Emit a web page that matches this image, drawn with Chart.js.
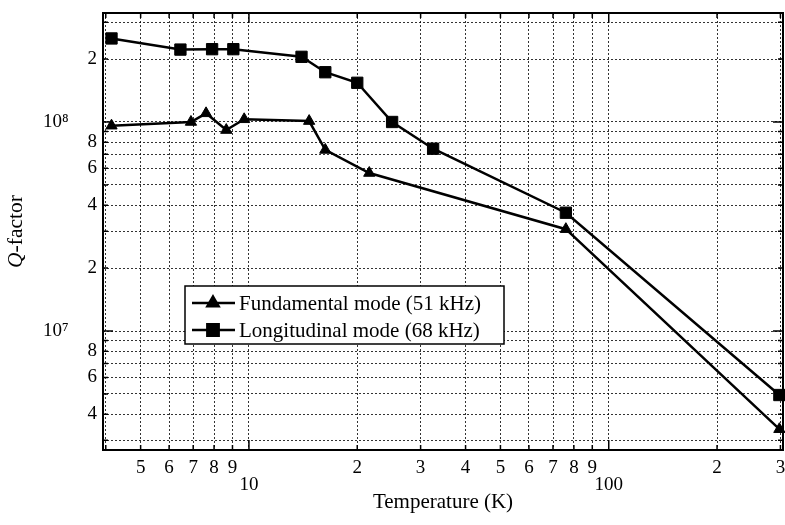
<!DOCTYPE html>
<html><head><meta charset="utf-8">
<script src="https://cdn.jsdelivr.net/npm/chart.js@4.4.1/dist/chart.umd.min.js"></script>
<style>html,body{margin:0;padding:0;background:#fff;}#wrap{width:785px;height:525px;position:relative;}</style>
</head><body><div id="wrap"><canvas id="c" width="785" height="525"></canvas></div>
<script>
// ---- data ----
const fundamentalT = [4.15, 6.9, 7.6, 8.65, 9.7, 14.7, 16.3, 21.6, 76, 298];
const fundamentalQ = [9.6e7, 1.0e8, 1.10e8, 9.15e7, 1.03e8, 1.01e8, 7.35e7, 5.7e7, 3.07e7, 3.39e6];
const longitudinalT = [4.15, 6.45, 7.9, 9.05, 14.0, 16.3, 20.0, 25.0, 32.5, 76, 298];
const longitudinalQ = [2.51e8, 2.22e8, 2.23e8, 2.23e8, 2.05e8, 1.73e8, 1.54e8, 1.0e8, 7.45e7, 3.68e7, 4.94e6];
const seriesNames = ['Fundamental mode (51 kHz)', 'Longitudinal mode (68 kHz)'];

const xGridValues = [4,5,6,7,8,9,10,20,30,40,50,60,70,80,90,100,200,300];
const xTickLabels = {5:'5',6:'6',7:'7',8:'8',9:'9',10:['','10'],20:'2',30:'3',40:'4',50:'5',60:'6',70:'7',80:'8',90:'9',100:['','100'],200:'2',300:'3'};
const xMajor = [10, 100];
const yGridValues = [3e6,4e6,5e6,6e6,7e6,8e6,9e6,1e7,2e7,3e7,4e7,5e7,6e7,7e7,8e7,9e7,1e8,2e8,3e8];
const yTickLabels = {4e6:'4',6e6:'6',8e6:'8',1e7:'10\u2077      ',2e7:'2',4e7:'4',6e7:'6',8e7:'8',1e8:'10\u2078      ',2e8:'2'};
const yMajor = [1e7, 1e8];

const FONT = 'Liberation Serif';

const boxPlugin = {
  id: 'boxPlugin',
  afterDatasetsDraw(chart) {
    const {ctx, chartArea: a, scales: {x, y}} = chart;
    ctx.save();
    ctx.strokeStyle = '#000';
    ctx.lineWidth = 1.5;
    ctx.beginPath();
    xGridValues.forEach(v => {
      const px = x.getPixelForValue(v);
      const len = xMajor.includes(v) ? 10 : 5;
      ctx.moveTo(px, a.bottom); ctx.lineTo(px, a.bottom - len);
      ctx.moveTo(px, a.top); ctx.lineTo(px, a.top + len);
    });
    yGridValues.forEach(v => {
      const py = y.getPixelForValue(v);
      const len = yMajor.includes(v) ? 10 : 5;
      ctx.moveTo(a.left, py); ctx.lineTo(a.left + len, py);
      ctx.moveTo(a.right, py); ctx.lineTo(a.right - len, py);
    });
    ctx.stroke();
    ctx.lineWidth = 2;
    ctx.strokeRect(a.left, a.top, a.right - a.left, a.bottom - a.top);
    ctx.restore();
  },
  afterDraw(chart) {
    const {ctx, chartArea: a} = chart;
    ctx.save();
    // y title with italic Q
    ctx.translate(16, (a.top + a.bottom) / 2);
    ctx.rotate(-Math.PI / 2);
    ctx.fillStyle = '#000';
    ctx.textBaseline = 'middle';
    const f1 = 'italic 21.5px "' + FONT + '"', f2 = '21.5px "' + FONT + '"';
    ctx.font = f1; const w1 = ctx.measureText('Q').width;
    ctx.font = f2; const w2 = ctx.measureText('-factor').width;
    let sx = -(w1 + w2) / 2;
    ctx.font = f1; ctx.textAlign = 'left'; ctx.fillText('Q', sx, 0);
    ctx.font = f2; ctx.fillText('-factor', sx + w1, 0);
    ctx.restore();

    // legend
    ctx.save();
    const lx = 185, ly = 286, lw = 319, lh = 58;
    ctx.fillStyle = '#fff';
    ctx.fillRect(lx, ly, lw, lh);
    ctx.strokeStyle = '#000'; ctx.lineWidth = 1.5;
    ctx.strokeRect(lx, ly, lw, lh);
    chart.data.datasets.forEach((ds, i) => {
      const cy = 303 + i * 27;
      ctx.strokeStyle = '#000'; ctx.lineWidth = 2.5;
      ctx.beginPath(); ctx.moveTo(192, cy); ctx.lineTo(235, cy); ctx.stroke();
      Chart.helpers.drawPoint(ctx, {pointStyle: ds.pointStyle, radius: ds.pointRadius, borderWidth: 1, rotation: 0}, 213, cy);
      ctx.fillStyle = '#000';
      ctx.fill();
      ctx.font = '21px "' + FONT + '"';
      ctx.textAlign = 'left'; ctx.textBaseline = 'middle';
      ctx.fillText(ds.label, 239, cy + 1);
    });
    ctx.restore();
  }
};

new Chart(document.getElementById('c'), {
  type: 'line',
  data: {
    datasets: [
      {
        label: seriesNames[0],
        data: fundamentalT.map((t, i) => ({x: t, y: fundamentalQ[i]})),
        borderColor: '#000', backgroundColor: '#000', borderWidth: 2.5,
        pointStyle: 'triangle', pointRadius: 6.5, pointHoverRadius: 6.5,
        pointBackgroundColor: '#000', pointBorderColor: '#000', pointBorderWidth: 1,
        tension: 0, clip: false
      },
      {
        label: seriesNames[1],
        data: longitudinalT.map((t, i) => ({x: t, y: longitudinalQ[i]})),
        borderColor: '#000', backgroundColor: '#000', borderWidth: 2.5,
        pointStyle: 'rect', pointRadius: 8, pointHoverRadius: 8,
        pointBackgroundColor: '#000', pointBorderColor: '#000', pointBorderWidth: 1,
        tension: 0, clip: false
      }
    ]
  },
  options: {
    responsive: false,
    animation: false,
    events: [],
    layout: {autoPadding: false, padding: {top: 13, right: 2, left: 0, bottom: 0}},
    plugins: {legend: {display: false}, tooltip: {enabled: false}, title: {display: false}},
    scales: {
      x: {
        type: 'logarithmic', min: 3.93, max: 305,
        afterBuildTicks(s) { s.ticks = xGridValues.map(v => ({value: v, major: xMajor.includes(v)})); },
        afterFit(s) { s.height = 75; s.paddingLeft = 0; s.paddingRight = 0; s.paddingTop = 0; s.paddingBottom = 0; },
        ticks: {
          autoSkip: false, maxRotation: 0, minRotation: 0, padding: 9.5, color: '#000',
          font: {family: FONT, size: 19, lineHeight: 0.9},
          callback: (v) => xTickLabels[v] !== undefined ? xTickLabels[v] : ''
        },
        grid: {color: 'rgba(0,0,0,0.8)', lineWidth: 1, drawTicks: false},
        border: {display: false, dash: [2, 2]},
        title: {display: true, text: 'Temperature (K)', color: '#000', font: {family: FONT, size: 21, lineHeight: 1.2}, padding: {top: 0, bottom: 10}}
      },
      y: {
        type: 'logarithmic', min: 2.696e6, max: 3.322e8,
        afterBuildTicks(s) { s.ticks = yGridValues.map(v => ({value: v, major: yMajor.includes(v)})); },
        afterFit(s) { s.width = 103; s.paddingLeft = 0; s.paddingRight = 0; s.paddingTop = 0; s.paddingBottom = 0; },
        ticks: {
          autoSkip: false, padding: 6, color: '#000',
          font: {family: FONT, size: 19},
          callback: (v) => yTickLabels[v] !== undefined ? yTickLabels[v] : ''
        },
        grid: {color: 'rgba(0,0,0,0.8)', lineWidth: 1, drawTicks: false},
        border: {display: false, dash: [2, 2]},
        title: {display: false}
      }
    }
  },
  plugins: [boxPlugin]
});
</script></body></html>
